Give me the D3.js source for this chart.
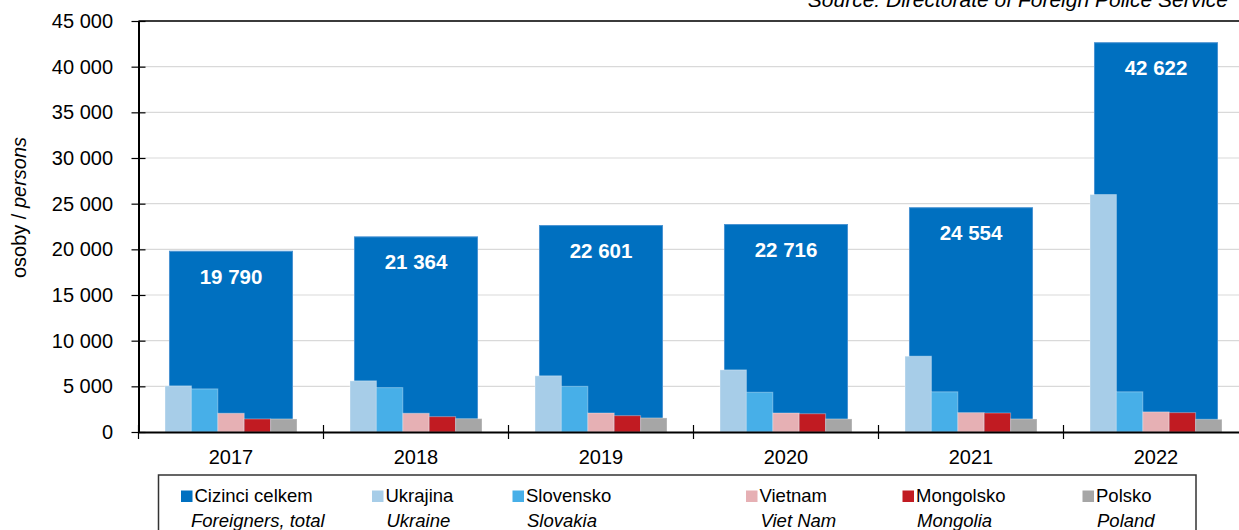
<!DOCTYPE html>
<html>
<head>
<meta charset="utf-8">
<script src="https://cdn.jsdelivr.net/npm/d3@7"></script>
<style>
  body { margin: 0; background: #fff; }
  svg { display: block; font-family: "Liberation Sans", Arial, sans-serif; }
</style>
</head>
<body>
<div id="root"></div>
<script>
// data
var years = ["2017", "2018", "2019", "2020", "2021", "2022"];
var total = [19790, 21364, 22601, 22716, 24554, 42622];
var ukraine = [5050, 5600, 6150, 6800, 8300, 26000];
var slovakia = [4720, 4860, 5000, 4350, 4400, 4400];
var vietnam = [2050, 2050, 2080, 2080, 2120, 2200];
var mongolia = [1430, 1680, 1790, 2000, 2080, 2120];
var poland = [1430, 1460, 1540, 1430, 1430, 1390];
var yTicks = [0, 5000, 10000, 15000, 20000, 25000, 30000, 35000, 40000, 45000];

var legendCz = ["Cizinci celkem", "Ukrajina", "Slovensko", "Vietnam", "Mongolsko", "Polsko"];
var legendEn = ["Foreigners, total", "Ukraine", "Slovakia", "Viet Nam", "Mongolia", "Poland"];

var countries = [
    { name: "Ukrajina", values: ukraine, color: "#A7CDE8" },
    { name: "Slovensko", values: slovakia, color: "#47AFE8" },
    { name: "Vietnam", values: vietnam, color: "#E6B0B4" },
    { name: "Mongolsko", values: mongolia, color: "#C11B22" },
    { name: "Polsko", values: poland, color: "#A6A6A6" }
];
var totalColor = "#0070C0";

// layout
var W = 1239, H = 530;
var plotLeft = 138.5, plotRight = 1248.5, plotTop = 21, plotBottom = 432;

var svg = d3.select("#root")
    .append("svg")
    .attr("width", W)
    .attr("height", H);

var x = d3.scaleBand()
    .domain(years)
    .range([plotLeft, plotRight]);

var y = d3.scaleLinear()
    .domain([0, 45000])
    .range([plotBottom, plotTop]);

var fmt = d3.formatLocale({ decimal: ",", thousands: "\u00a0", grouping: [3], currency: ["", ""] }).format(",");

// grid lines
svg.append("g")
    .selectAll("line")
    .data(yTicks.slice(1))
    .join("line")
    .attr("x1", plotLeft)
    .attr("x2", plotRight)
    .attr("y1", d => y(d))
    .attr("y2", d => y(d))
    .attr("stroke", "#D9D9D9")
    .attr("stroke-width", 1.2);

// total bars
var bigW = x.bandwidth() * 0.665;
svg.append("g")
    .selectAll("rect")
    .data(years)
    .join("rect")
    .attr("x", d => x(d) + (x.bandwidth() - bigW) / 2)
    .attr("y", (d, i) => y(total[i]))
    .attr("width", bigW)
    .attr("height", (d, i) => y(0) - y(total[i]))
    .attr("fill", totalColor)
    .attr("stroke", "#4A93D2")
    .attr("stroke-width", 1);

// country bars
var x1 = d3.scaleBand()
    .domain(countries.map(c => c.name))
    .range([-66, 66]);

countries.forEach(function (c) {
    svg.append("g")
        .selectAll("rect")
        .data(years)
        .join("rect")
        .attr("x", d => x(d) + x.bandwidth() / 2 + x1(c.name))
        .attr("y", (d, i) => y(c.values[i]))
        .attr("width", x1.bandwidth())
        .attr("height", (d, i) => y(0) - y(c.values[i]))
        .attr("fill", c.color)
        .attr("stroke", "#ffffff")
        .attr("stroke-opacity", 0.35)
        .attr("stroke-width", 1);
});

// total labels
svg.append("g")
    .selectAll("text")
    .data(years)
    .join("text")
    .attr("x", d => x(d) + x.bandwidth() / 2)
    .attr("y", (d, i) => y(total[i]) + 32.5)
    .attr("text-anchor", "middle")
    .attr("fill", "#fff")
    .attr("font-weight", "bold")
    .attr("font-size", "20.5px")
    .text((d, i) => fmt(total[i]));

// frame top line
svg.append("line")
    .attr("x1", plotLeft).attr("x2", plotRight)
    .attr("y1", plotTop).attr("y2", plotTop)
    .attr("stroke", "#000").attr("stroke-width", 1.5);

// y axis
var yAxis = svg.append("g")
    .attr("transform", "translate(" + plotLeft + ",0)")
    .call(d3.axisLeft(y).tickValues(yTicks).tickFormat(fmt).tickSizeInner(7).tickSizeOuter(0).tickPadding(19));
yAxis.select(".domain").attr("stroke", "#000").attr("stroke-width", 2);
yAxis.selectAll(".tick line").attr("x2", 7).attr("x1", -7).attr("stroke", "#000").attr("stroke-width", 1.2);
yAxis.selectAll("text")
    .attr("font-size", "20px")
    .attr("font-family", "Liberation Sans, Arial, sans-serif")
    .attr("fill", "#000")
    .attr("x", -25.5);

// x axis
var xAxis = svg.append("g")
    .attr("transform", "translate(0," + plotBottom + ")")
    .call(d3.axisBottom(x).tickSize(0).tickPadding(18));
xAxis.select(".domain").attr("stroke", "#000").attr("stroke-width", 2);
xAxis.selectAll("text")
    .attr("font-size", "20px")
    .attr("font-family", "Liberation Sans, Arial, sans-serif")
    .attr("fill", "#000");

// x boundary ticks
svg.append("g")
    .selectAll("line")
    .data(years.concat(["end"]))
    .join("line")
    .attr("x1", (d, i) => i < years.length ? x(d) : plotRight)
    .attr("x2", (d, i) => i < years.length ? x(d) : plotRight)
    .attr("y1", plotBottom - 7)
    .attr("y2", plotBottom + 7)
    .attr("stroke", "#000")
    .attr("stroke-width", 1.2);

// y axis title
var yTitle = svg.append("text")
    .attr("transform", "translate(26,207.5) rotate(-90)")
    .attr("text-anchor", "middle")
    .attr("font-size", "20px")
    .attr("fill", "#000");
yTitle.append("tspan").text("osoby / ");
yTitle.append("tspan").attr("font-style", "italic").text("persons");

// source
svg.append("text")
    .attr("x", 1228)
    .attr("y", 7)
    .attr("text-anchor", "end")
    .attr("font-size", "21px")
    .attr("font-style", "italic")
    .attr("fill", "#000")
    .text("Source: Directorate of Foreign Police Service");

// legend
var legendX = [181, 372, 512.5, 746, 902.5, 1082.5];
var legendColors = [totalColor].concat(countries.map(c => c.color));

svg.append("rect")
    .attr("x", 158.5)
    .attr("y", 475)
    .attr("width", 1037.5)
    .attr("height", 80)
    .attr("fill", "#fff")
    .attr("stroke", "#333")
    .attr("stroke-width", 1.5);

var items = svg.append("g")
    .selectAll("g")
    .data(legendCz)
    .join("g")
    .attr("transform", (d, i) => "translate(" + legendX[i] + ",0)");

items.append("rect")
    .attr("x", 0)
    .attr("y", 490.5)
    .attr("width", 11.5)
    .attr("height", 11.5)
    .attr("fill", (d, i) => legendColors[i]);

items.append("text")
    .attr("x", 13.5)
    .attr("y", 502)
    .attr("font-size", "18.5px")
    .attr("fill", "#000")
    .text(d => d);

items.append("text")
    .attr("x", (d, i) => i === 0 ? 10 : 14.5)
    .attr("y", 527)
    .attr("font-size", "18.5px")
    .attr("font-style", "italic")
    .attr("fill", "#000")
    .text((d, i) => legendEn[i]);
</script>
</body>
</html>
